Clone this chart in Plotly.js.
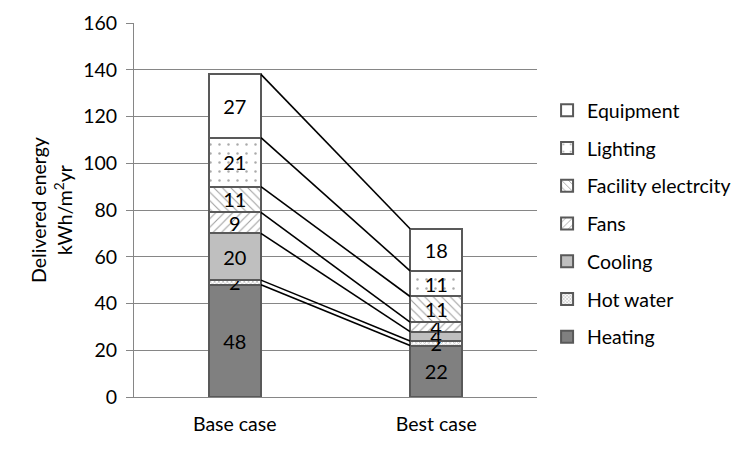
<!DOCTYPE html>
<html>
<head>
<meta charset="utf-8">
<script src="https://cdn.plot.ly/plotly-3.0.1.min.js"></script>
<style>html,body{margin:0;padding:0;background:#fff;}#chart{width:750px;height:449px;}</style>
</head>
<body>
<div id="chart"></div>
<script>
const categories = ["Base case", "Best case"];
const seriesNames = ["Heating", "Hot water", "Cooling", "Fans", "Facility electrcity", "Lighting", "Equipment"];
const heating = [48, 22];
const hotWater = [2, 2];
const cooling = [20, 4];
const fans = [9, 4];
const facility = [11, 11];
const lighting = [21, 11];
const equipment = [27, 18];
const yTicks = [0, 20, 40, 60, 80, 100, 120, 140, 160];

const seriesValues = [heating, hotWater, cooling, fans, facility, lighting, equipment];

const FONT = "Lato, 'Liberation Sans', sans-serif";
const FS = 19.5;
const OUT = "#595959";
const styles = [
  {color: "#808080"},
  {color: "#ffffff", pattern: {shape: "x", fgcolor: "#7f7f7f", bgcolor: "#ffffff", size: 3, solidity: 0.45, fillmode: "overlay"}},
  {color: "#bfbfbf"},
  {color: "#ffffff", pattern: {shape: "/", fgcolor: "#404040", bgcolor: "#ffffff", size: 6, solidity: 0.18, fillmode: "overlay"}},
  {color: "#ffffff", pattern: {shape: "\\", fgcolor: "#404040", bgcolor: "#ffffff", size: 6, solidity: 0.18, fillmode: "overlay"}},
  {color: "#ffffff", pattern: {shape: ".", fgcolor: "#555555", bgcolor: "#ffffff", size: 9, solidity: 0.06, fillmode: "overlay"}},
  {color: "#ffffff"}
];

const traces = seriesNames.map((name, i) => ({
  type: "bar",
  name: name,
  x: categories,
  y: seriesValues[i],
  text: seriesValues[i].map(String),
  textposition: "inside",
  insidetextanchor: "middle",
  textangle: 0,
  constraintext: "none",
  textfont: {family: FONT, size: 20, color: "#000"},
  legendgroup: "g" + i,
  legendrank: seriesNames.length - i,
  marker: Object.assign({line: {color: OUT, width: 2}}, styles[i]),
  hoverinfo: "skip",
  cliponaxis: false
}));

const bargap = 0.74;
const half = (1 - bargap) / 2;
const shapes = [];
let cumA = 0, cumB = 0;
seriesValues.forEach(v => {
  cumA += v[0]; cumB += v[1];
  shapes.push({type: "line", xref: "x", yref: "y", x0: 0 + half, x1: 1 - half, y0: cumA, y1: cumB,
    line: {color: "#000", width: 1.6}, layer: "above"});
});

const layout = {
  width: 750, height: 449,
  margin: {l: 134, r: 213, t: 23, b: 52},
  paper_bgcolor: "#fff", plot_bgcolor: "#fff",
  barmode: "stack",
  bargap: bargap,
  font: {family: FONT, size: FS, color: "#000"},
  uniformtext: {mode: "show", minsize: 20},
  showlegend: true,
  legend: {
    x: 1.025, xanchor: "left", y: 0.818, yanchor: "top",
    traceorder: "grouped", tracegroupgap: 9.4,
    font: {family: FONT, size: FS, color: "#000"},
    bgcolor: "rgba(0,0,0,0)"
  },
  xaxis: {
    type: "category",
    range: [-0.5, 1.5],
    showline: true, linecolor: "#868686", linewidth: 1,
    ticks: "", showgrid: false,
    ticklabelstandoff: 10,
    tickfont: {family: FONT, size: FS, color: "#000"}
  },
  yaxis: {
    range: [0, 160],
    tickvals: yTicks,
    ticktext: yTicks.map(String),
    showline: true, linecolor: "#868686", linewidth: 1,
    ticks: "outside", ticklen: 7, tickcolor: "#868686",
    showgrid: true, gridcolor: "#868686", gridwidth: 1,
    zeroline: false,
    ticklabelstandoff: 5,
    tickfont: {family: FONT, size: FS, color: "#000"},
    title: {text: "Delivered energy<br>kWh/m<sup>2</sup>yr", font: {family: FONT, size: FS, color: "#000"}, standoff: 5}
  },
  shapes: shapes
};

Plotly.newPlot("chart", traces, layout, {displayModeBar: false, staticPlot: true});
</script>
</body>
</html>
